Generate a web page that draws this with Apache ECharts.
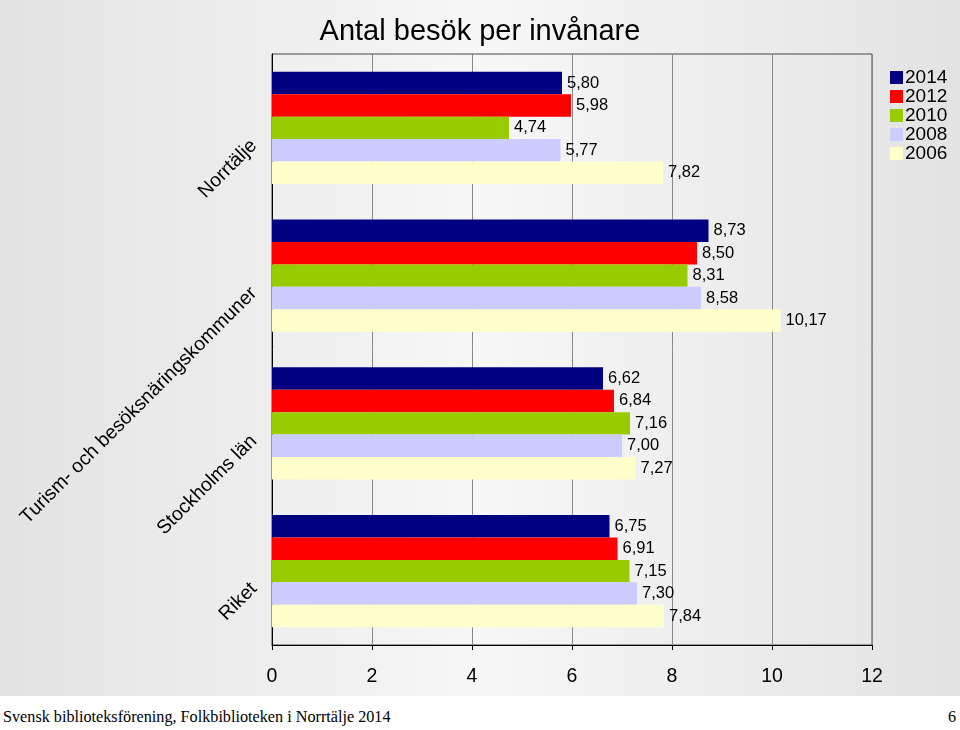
<!DOCTYPE html>
<html>
<head>
<meta charset="utf-8">
<title>Antal besök per invånare</title>
<script src="https://cdn.jsdelivr.net/npm/echarts@6/dist/echarts.min.js"></script>
<style>
  html, body { margin: 0; padding: 0; background: #fff; }
  .wrap { width: 960px; height: 730px; position: relative; }
  .chartbody { width: 960px; height: 696px; }
  .footer {
    position: absolute; left: 0; top: 696px; width: 960px; height: 34px;
    font-family: 'Liberation Serif', 'Times New Roman', serif; font-size: 16.2px; color: #000;
  }
  .footer .src { position: absolute; left: 3px; top: 12px; }
  .footer .page { position: absolute; right: 4px; top: 12px; }
</style>
</head>
<body>
<div class="wrap">
  <!-- diagram -->
  <div class="chartbody" id="main"></div>
  <div class="footer">
    <span class="src">Svensk biblioteksförening, Folkbiblioteken i Norrtälje 2014</span>
    <span class="page">6</span>
  </div>
</div>
<script>
// kategorier uppifrån och ner
const categories = ['Norrtälje', 'Turism- och besöksnäringskommuner', 'Stockholms län', 'Riket']
const years = ['2014', '2012', '2010', '2008', '2006']
const data2014 = [5.80, 8.73, 6.62, 6.75]
const data2012 = [5.98, 8.50, 6.84, 6.91]
const data2010 = [4.74, 8.31, 7.16, 7.15]
const data2008 = [5.77, 8.58, 7.00, 7.30]
const data2006 = [7.82, 10.17, 7.27, 7.84]
const xTicks = [0, 2, 4, 6, 8, 10, 12]

const allData = [data2014, data2012, data2010, data2008, data2006]
const colorArr = ['#000080', '#ff0000', '#99cc00', '#ccccff', '#ffffcc']
const font = "'Liberation Sans', Arial, sans-serif"

const chartInstance = echarts.init(document.getElementById('main'))

const series = years.map((y, i) => ({
  name: y,
  type: 'bar',
  data: allData[i],
  barGap: 0,
  barCategoryGap: '24%',
  itemStyle: { color: colorArr[i] },
  label: {
    show: true,
    position: 'right',
    distance: 5,
    color: '#000',
    fontFamily: font,
    fontSize: 16.5,
    padding: [3, 0, 0, 0],
    formatter: p => p.value.toFixed(2).replace('.', ',')
  }
}))

const option = {
  backgroundColor: {
    type: 'linear', x: 0, y: 0, x2: 1, y2: 0,
    colorStops: [
      { offset: 0, color: '#e3e3e3' },
      { offset: 0.5, color: '#f7f7f7' },
      { offset: 1, color: '#e3e3e3' }
    ]
  },
  animation: false,
  title: {
    text: 'Antal besök per invånare',
    left: 'center',
    top: 12,
    textStyle: { color: '#000', fontFamily: font, fontSize: 29, fontWeight: 'normal' }
  },
  legend: {
    orient: 'vertical',
    left: 885,
    top: 63,
    itemWidth: 13,
    itemHeight: 13,
    itemGap: 0,
    icon: 'rect',
    data: years,
    textStyle: { color: '#000', fontFamily: font, fontSize: 19, padding: [0, 0, 0, -3] }
  },
  grid: {
    left: 272,
    right: 88,
    top: 54,
    bottom: 51,
    show: true,
    borderColor: '#444',
    borderWidth: 1
  },
  xAxis: {
    type: 'value',
    min: xTicks[0],
    max: xTicks[xTicks.length - 1],
    interval: 2,
    axisLine: { show: true, lineStyle: { color: '#000' } },
    axisTick: { show: true, length: 5, lineStyle: { color: '#000' } },
    axisLabel: { color: '#000', fontFamily: font, fontSize: 19.5, margin: 22 },
    splitLine: { lineStyle: { color: '#888' } }
  },
  yAxis: {
    type: 'category',
    inverse: true,
    data: categories,
    axisLine: { lineStyle: { color: '#000' } },
    axisTick: { length: 5, lineStyle: { color: '#000' } },
    axisLabel: {
      interval: 0,
      rotate: 45,
      color: '#000',
      fontFamily: font,
      fontSize: 19.5,
      margin: 33,
      verticalAlign: 'top',
      lineHeight: 42
    }
  },
  series: series
}
chartInstance.setOption(option)
</script>
</body>
</html>
